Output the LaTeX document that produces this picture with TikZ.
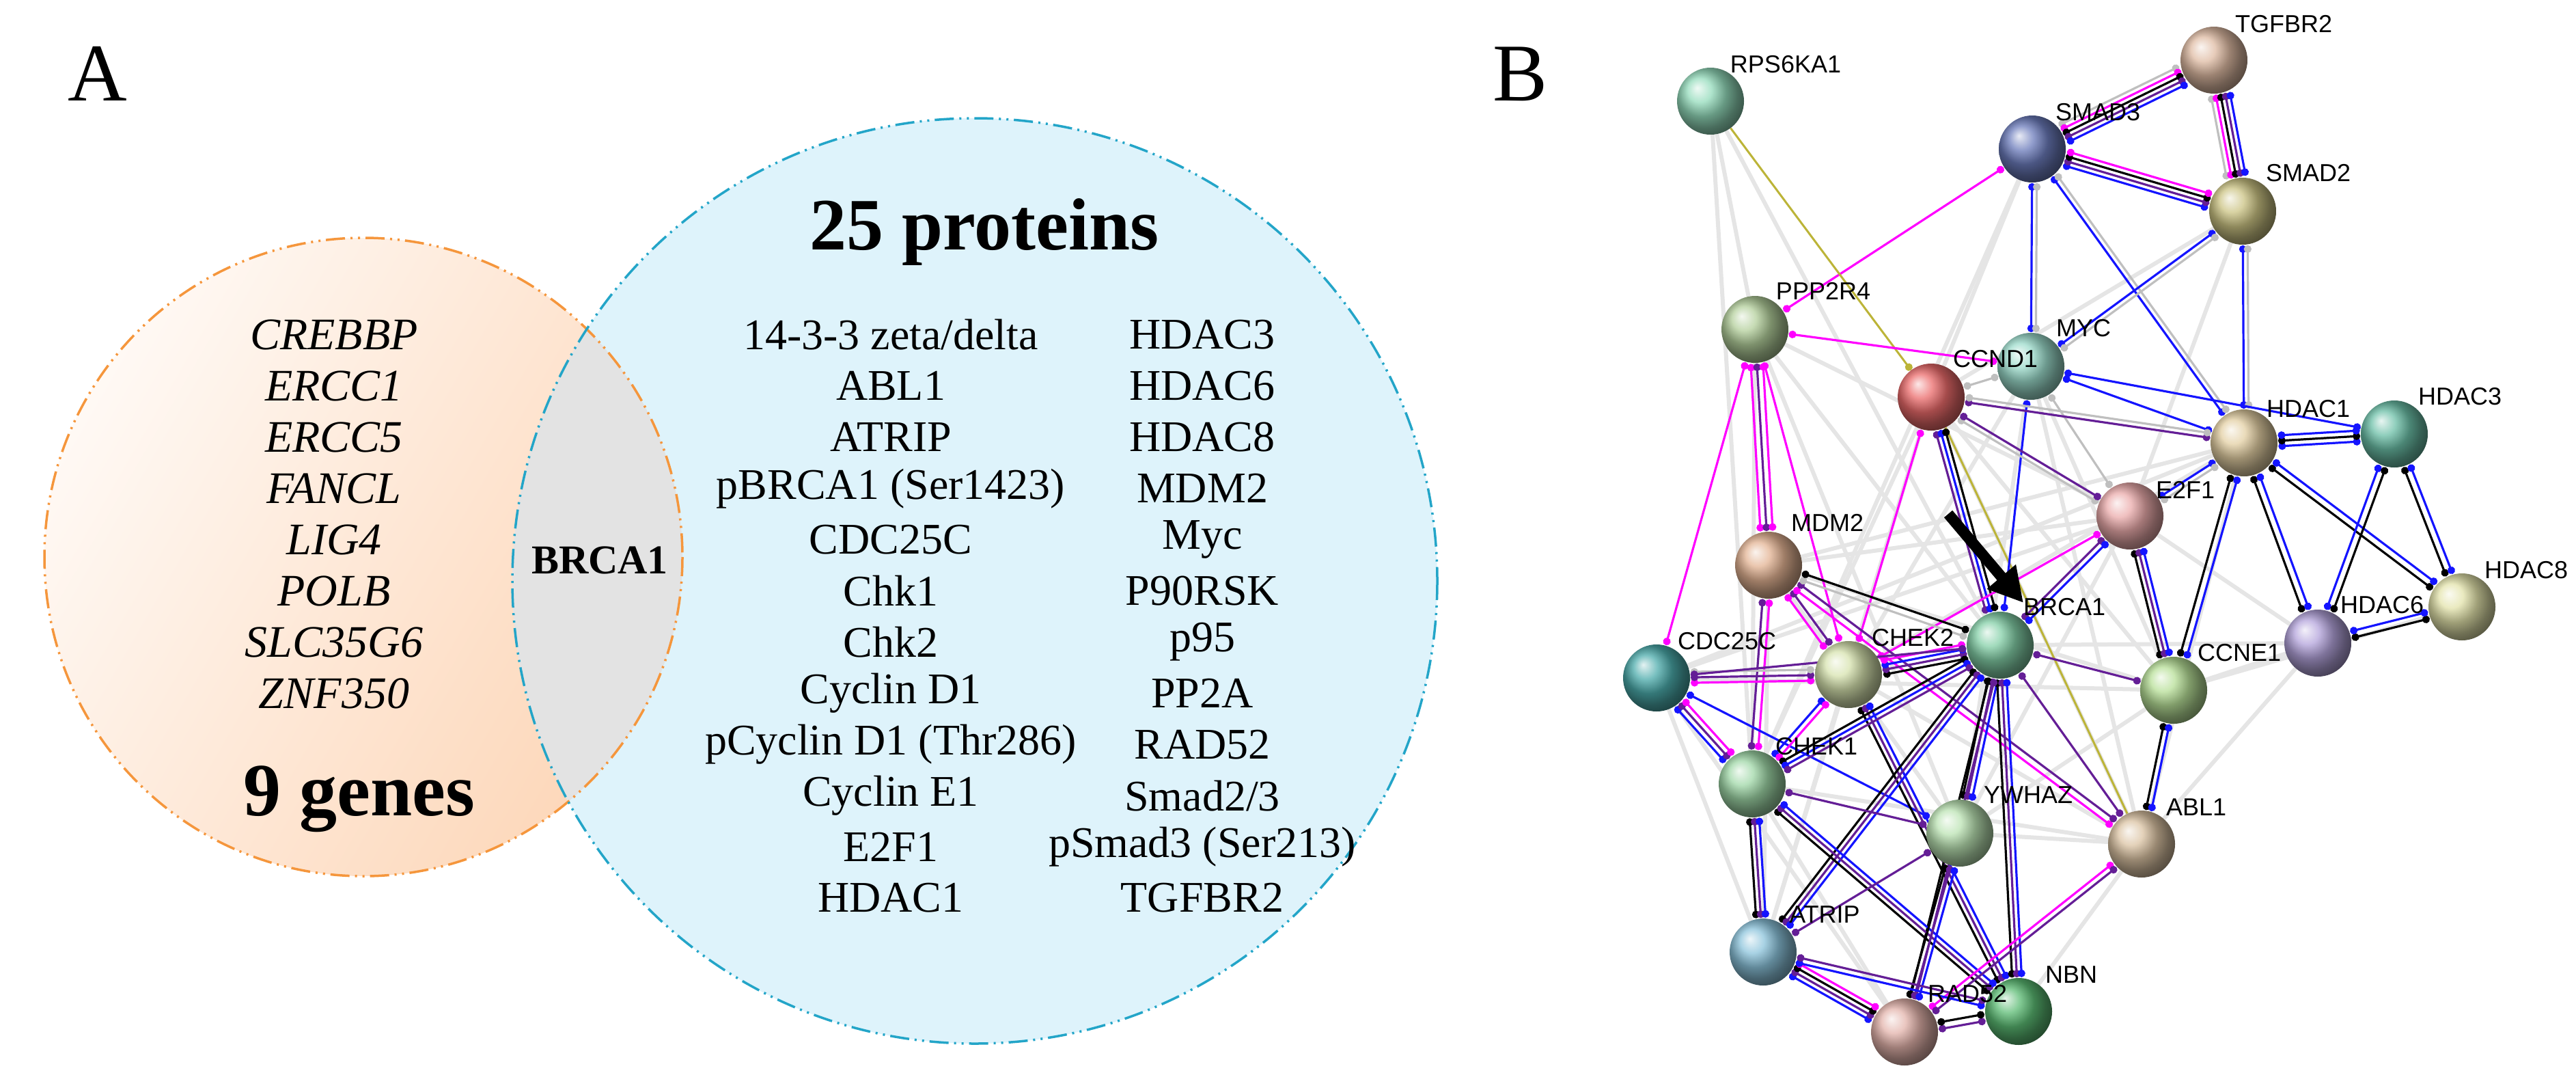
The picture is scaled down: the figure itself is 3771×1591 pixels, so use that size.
\documentclass[tikz,border=0pt]{standalone}
\usepackage{fontspec}
\setmainfont{Liberation Serif}
\newfontfamily\arialf{Liberation Sans}
\usetikzlibrary{calc,arrows.meta,shadings}
\definecolor{mpur}{RGB}{100,30,150}
\definecolor{mmag}{RGB}{255,0,255}
\definecolor{mblu}{RGB}{20,20,255}
\definecolor{ogfill}{RGB}{253,215,185}
\definecolor{ogline}{RGB}{245,150,60}
\definecolor{blfill}{RGB}{222,243,251}
\definecolor{blline}{RGB}{35,165,200}
\definecolor{pcRPS6KA1}{RGB}{120,210,170}
\definecolor{pcTGFBR2}{RGB}{215,170,140}
\definecolor{pcSMAD3}{RGB}{70,90,170}
\definecolor{pcSMAD2}{RGB}{190,180,100}
\definecolor{pcPPP2R4}{RGB}{160,195,130}
\definecolor{pcMYC}{RGB}{130,210,190}
\definecolor{pcCCND1}{RGB}{230,70,70}
\definecolor{pcHDAC1}{RGB}{220,195,140}
\definecolor{pcHDAC3}{RGB}{70,175,145}
\definecolor{pcE2F1}{RGB}{230,150,150}
\definecolor{pcMDM2}{RGB}{220,160,120}
\definecolor{pcHDAC8}{RGB}{220,220,150}
\definecolor{pcHDAC6}{RGB}{160,140,210}
\definecolor{pcBRCA1}{RGB}{100,195,145}
\definecolor{pcCDC25C}{RGB}{30,150,150}
\definecolor{pcCHEK2}{RGB}{205,220,155}
\definecolor{pcCCNE1}{RGB}{165,215,125}
\definecolor{pcCHEK1}{RGB}{135,205,145}
\definecolor{pcYWHAZ}{RGB}{170,220,160}
\definecolor{pcABL1}{RGB}{210,180,140}
\definecolor{pcATRIP}{RGB}{110,180,210}
\definecolor{pcRAD52}{RGB}{220,160,150}
\definecolor{pcNBN}{RGB}{50,170,80}
\pgfdeclarelayer{bg}\pgfsetlayers{bg,main}
\tikzset{
 prot/.style={circle,minimum size=98pt,inner sep=0,shading=ball,ball color=pc#1!80!white},
 plab/.style={font=\arialf\fontsize{36}{36}\selectfont,anchor=center},
 ge/.style={line width=6pt,black!10},
 ce/.style={line width=3.2pt,{Circle[length=11pt]}-{Circle[length=11pt]}},
 gene/.style={font=\itshape\fontsize{66}{66}\selectfont},
 prt/.style={font=\fontsize{64}{64}\selectfont},
}
\newcommand\medge[3]{%
 \foreach \c/\o in {#3}{%
  \path ($(#1)!50pt!(#2)$) coordinate (s) ($(#2)!50pt!(#1)$) coordinate (t);
  \draw[ce,\c] ($(s)!\o pt!90:(t)$) -- ($(t)!\o pt!-90:(s)$);
 }}
\newcommand\gedge[2]{\draw[ge] (#1) -- (#2);}
\begin{document}
\begin{tikzpicture}[x=1pt,y=-1pt]
\useasboundingbox (0,0) rectangle (3771,1591);
% ---------- Panel A
\node[font=\fontsize{120}{120}\selectfont] (A) at (143,108) {A};
\shade[left color=ogfill!15,right color=ogfill,shading angle=60] (532,815) circle (467);
\fill[blfill] (1427,850) circle (677);
\begin{scope}
 \clip (532,815) circle (467);
 \fill[black!11] (1427,850) circle (677);
\end{scope}
\draw[ogline,line width=3.5pt,dash pattern=on 28pt off 8pt on 3pt off 8pt on 3pt off 8pt] (532,815) circle (467);
\draw[blline,line width=3.5pt,dash pattern=on 28pt off 8pt on 3pt off 8pt on 3pt off 8pt] (1427,850) circle (677);
\foreach \t [count=\i from 0] in {CREBBP,ERCC1,ERCC5,FANCL,LIG4,POLB,SLC35G6,ZNF350}
  \node[gene] (g\i) at (489,490+75*\i) {\t};
\node[font=\bfseries\fontsize{110}{110}\selectfont] (ng) at (526,1169) {9 genes};
\node[font=\bfseries\fontsize{60}{60}\selectfont] (br) at (878,820) {BRCA1};
\node[font=\bfseries\fontsize{108}{108}\selectfont] (np) at (1441,340) {25 proteins};
\foreach \t [count=\i from 0] in {14-3-3 zeta/delta,ABL1,ATRIP,pBRCA1 (Ser1423),CDC25C,Chk1,Chk2,Cyclin D1,pCyclin D1 (Thr286),Cyclin E1,E2F1,HDAC1}
  \node[prt] (pa\i) at (1304,490+74.9*\i) {\t};
\foreach \t [count=\i from 0] in {HDAC3,HDAC6,HDAC8,MDM2,Myc,P90RSK,p95,PP2A,RAD52,Smad2/3,pSmad3 (Ser213),TGFBR2}
  \node[prt] (pb\i) at (1760,490+74.9*\i) {\t};
% ---------- Panel B
\node[font=\fontsize{120}{120}\selectfont] (B) at (2225,108) {B};
\foreach \n/\x/\y in {RPS6KA1/2504/148,TGFBR2/3241/88,SMAD3/2975/218,SMAD2/3283/309,PPP2R4/2569/482,MYC/2973/536,CCND1/2827/581,HDAC1/3285/648,HDAC3/3505/635,E2F1/3118/755,MDM2/2589/827,HDAC8/3604/888,HDAC6/3393/941,BRCA1/2928/944,CDC25C/2425/992,CHEK2/2706/987,CCNE1/3182/1010,CHEK1/2565/1147,YWHAZ/2869/1219,ABL1/3135/1235,ATRIP/2581/1393,RAD52/2788/1510,NBN/2955/1480}
  \node[prot=\n] (\n) at (\x,\y) {};
\foreach \n/\x/\y in {RPS6KA1/2614/94,TGFBR2/3343/35,SMAD3/3071/164,SMAD2/3379/253,PPP2R4/2669/426,MYC/3050/480,CCND1/2921/525,HDAC1/3379/598,HDAC3/3601/580,E2F1/3199/717,MDM2/2675/765,HDAC8/3698/834,HDAC6/3487/885,BRCA1/3022/888,CDC25C/2528/938,CHEK2/2800/933,CCNE1/3278/955,CHEK1/2659/1092,YWHAZ/2969/1163,ABL1/3215/1181,ATRIP/2671/1338,RAD52/2880/1454,NBN/3032/1426}
  \node[plab] (l\n) at (\x,\y) {\n};
\coordinate (arS) at (2852,752);
\coordinate (arE) at (2962,882);
\draw[line width=16pt,-{Triangle[length=50pt,width=52pt]}] (arS) -- (arE);
\begin{pgfonlayer}{bg}
\gedge{RPS6KA1}{PPP2R4}\gedge{RPS6KA1}{CHEK1}\gedge{RPS6KA1}{BRCA1}
\gedge{PPP2R4}{BRCA1}\gedge{PPP2R4}{E2F1}\gedge{PPP2R4}{CHEK1}\gedge{PPP2R4}{YWHAZ}
\gedge{SMAD3}{CHEK1}\gedge{SMAD3}{CCND1}\gedge{SMAD2}{CCND1}\gedge{SMAD2}{E2F1}
\gedge{MYC}{CHEK2}\gedge{MYC}{YWHAZ}\gedge{MYC}{ABL1}\gedge{MYC}{CCNE1}
\gedge{CCND1}{CHEK1}\gedge{CCND1}{ATRIP}\gedge{CCND1}{ABL1}\gedge{CCND1}{CCNE1}
\gedge{HDAC1}{CHEK2}\gedge{HDAC1}{MDM2}\gedge{HDAC1}{ABL1}\gedge{HDAC1}{CDC25C}
\gedge{E2F1}{MDM2}\gedge{E2F1}{CDC25C}\gedge{E2F1}{HDAC6}\gedge{E2F1}{YWHAZ}
\gedge{MDM2}{YWHAZ}\gedge{MDM2}{ATRIP}\gedge{MDM2}{CCNE1}
\gedge{CDC25C}{ATRIP}\gedge{CDC25C}{RAD52}\gedge{CDC25C}{CCNE1}
\gedge{CHEK1}{RAD52}\gedge{CHEK1}{ABL1}\gedge{CHEK2}{ATRIP}\gedge{CHEK2}{ABL1}
\gedge{YWHAZ}{ABL1}\gedge{YWHAZ}{CCNE1}\gedge{ABL1}{NBN}\gedge{CCNE1}{HDAC6}
\gedge{HDAC6}{ABL1}\gedge{HDAC8}{CCNE1}\gedge{BRCA1}{HDAC6}
\medge{TGFBR2}{SMAD3}{black!25/-14,mmag/-7,black/0,mpur/7,mblu/14}
\medge{TGFBR2}{SMAD2}{black!25/-14,mmag/-7,black/0,mpur/7,mblu/14}
\medge{SMAD3}{SMAD2}{mblu/-10,mpur/-3,black/4,mmag/11}
\medge{SMAD3}{MYC}{mblu/0,black!25/7}
\medge{SMAD3}{HDAC1}{mblu/0,black!25/7}
\medge{SMAD3}{PPP2R4}{mmag/0}
\medge{SMAD2}{HDAC1}{mblu/0,black!25/7}
\medge{SMAD2}{MYC}{mblu/0,black!25/7}
\draw[line width=3pt,yellow!70!black,-{Circle[length=11pt]}] (RPS6KA1) -- (CCND1);
\draw[line width=3pt,yellow!70!black] (CCND1) -- (ABL1);
\medge{PPP2R4}{MYC}{mmag/0}
\medge{PPP2R4}{MDM2}{mmag/-9,mpur/0,mmag/9}
\medge{PPP2R4}{CDC25C}{mmag/0}
\medge{PPP2R4}{CHEK2}{mmag/0}
\medge{MYC}{HDAC1}{mblu/0}
\medge{MYC}{HDAC3}{mblu/0}
\medge{MYC}{CCND1}{black!25/0}
\medge{MYC}{BRCA1}{mblu/0}
\medge{MYC}{E2F1}{black!25/0}
\medge{CCND1}{HDAC1}{mpur/0,black!25/7}
\medge{CCND1}{E2F1}{black!25/-7,mpur/0}
\medge{CCND1}{BRCA1}{mpur/-7,mblu/0,black/7}
\medge{CCND1}{CHEK2}{mmag/0}
\medge{HDAC1}{HDAC3}{mblu/-8,black/0,mblu/8}
\medge{HDAC1}{E2F1}{mblu/0,black!25/7}
\medge{HDAC1}{CCNE1}{black/-5,mblu/5}
\medge{HDAC1}{HDAC6}{black/-5,mblu/5}
\medge{HDAC1}{HDAC8}{black/-5,mblu/5}
\medge{HDAC3}{HDAC6}{mblu/-5,black/5}
\medge{HDAC3}{HDAC8}{black/-5,mblu/5}
\medge{HDAC6}{HDAC8}{black/-5,mblu/5}
\medge{E2F1}{CCNE1}{black/-7,mpur/0,mblu/7}
\medge{E2F1}{BRCA1}{mpur/-4,mblu/4}
\medge{E2F1}{CHEK2}{mmag/0}
\medge{MDM2}{CHEK2}{mmag/-5,mpur/5}
\medge{MDM2}{CHEK1}{mpur/-5,mmag/5}
\medge{MDM2}{ABL1}{mmag/-5,mpur/5}
\medge{MDM2}{BRCA1}{black!25/-5,black/5}
\medge{CDC25C}{CHEK2}{mmag/-8,mpur/0,black!25/8}
\medge{CDC25C}{CHEK1}{mblu/-8,mpur/0,mmag/8}
\medge{CDC25C}{YWHAZ}{mblu/0}
\medge{CHEK2}{BRCA1}{black/-10,mpur/-3,mblu/4,mmag/11}
\medge{CHEK2}{CHEK1}{mblu/-4,mmag/4}
\medge{CHEK2}{NBN}{black/-7,mpur/0,mblu/7}
\medge{BRCA1}{CCNE1}{mpur/0}
\medge{BRCA1}{CHEK1}{black/-7,mblu/0,mpur/7}
\medge{BRCA1}{ATRIP}{black/-7,mpur/0,mblu/7}
\medge{BRCA1}{YWHAZ}{black/-7,mpur/0,mblu/7}
\medge{BRCA1}{NBN}{black/-7,mpur/0,mblu/7}
\medge{BRCA1}{RAD52}{black/-4,mpur/4}
\medge{BRCA1}{ABL1}{mpur/0}
\medge{BRCA1}{CDC25C}{mpur/0}
\medge{CCNE1}{ABL1}{black/-4,mblu/4}
\medge{CHEK1}{ATRIP}{black/-7,mpur/0,mblu/7}
\medge{CHEK1}{YWHAZ}{mpur/0}
\medge{CHEK1}{NBN}{black/-7,mpur/0,mblu/7}
\medge{YWHAZ}{RAD52}{black/-7,mpur/0,mblu/7}
\medge{YWHAZ}{ATRIP}{mpur/0}
\medge{ABL1}{RAD52}{mmag/-4,mpur/4}
\medge{ATRIP}{RAD52}{mblu/-10,mpur/-3,black/4,mmag/11}
\medge{ATRIP}{NBN}{mblu/-4,mpur/4}
\medge{RAD52}{NBN}{mpur/-5,black/5}
\end{pgfonlayer}
\end{tikzpicture}
\end{document}
